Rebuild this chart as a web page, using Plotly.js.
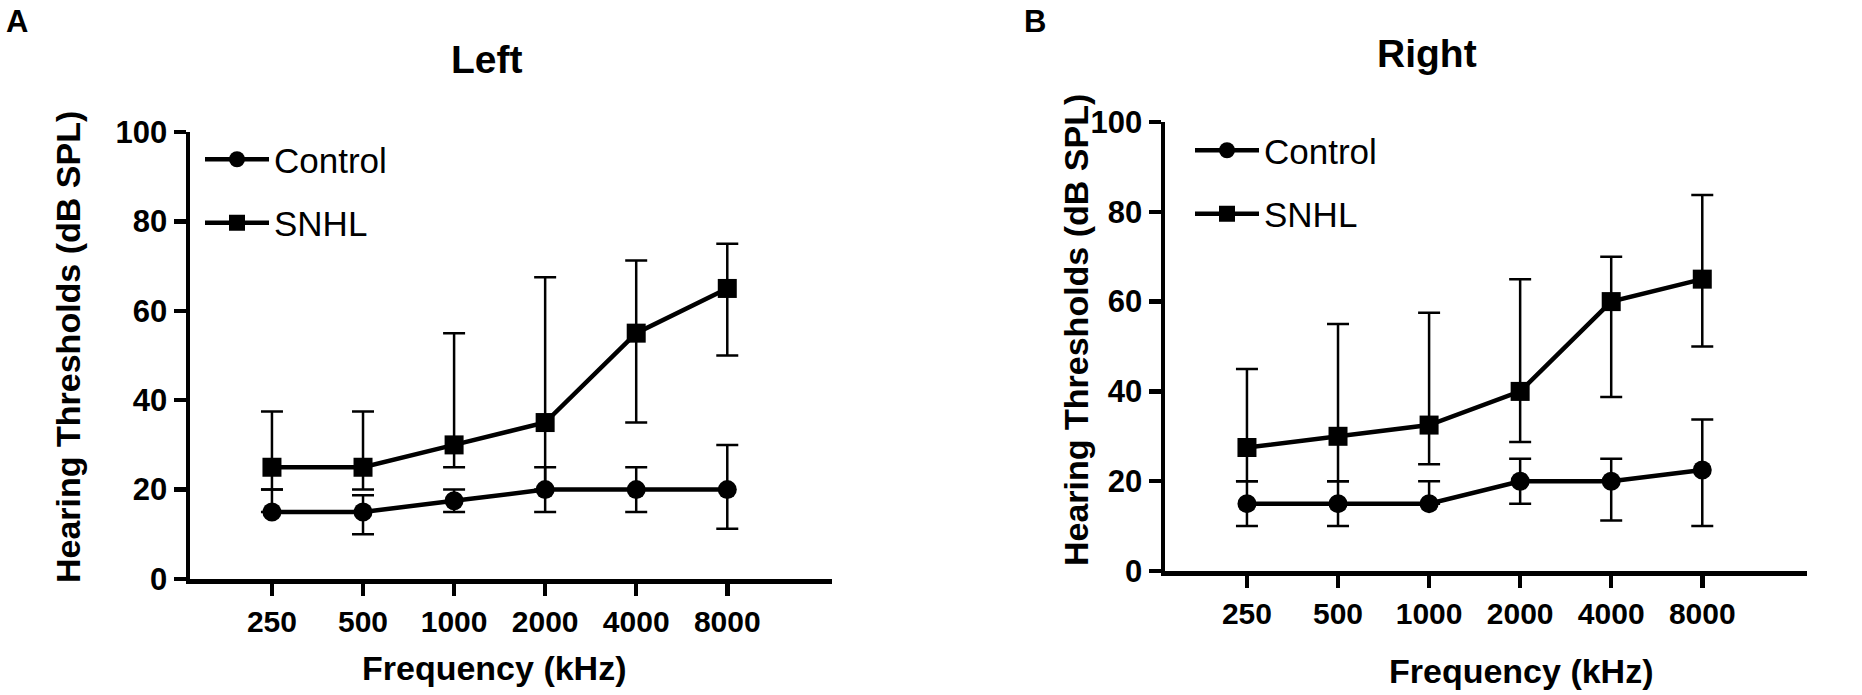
<!DOCTYPE html>
<html>
<head>
<meta charset="utf-8">
<script src="https://cdn.plot.ly/plotly-3.0.1.min.js"></script>
<style>
  body { margin: 0; background: #fff; }
  #chart { width: 1862px; height: 695px; }
</style>
</head>
<body>
<div id="chart"></div>
<script>
// frequencies on the x axis
var freqs = ['250', '500', '1000', '2000', '4000', '8000'];

// Left ear: median with upper / lower error limits
var leftControl   = [15, 15, 17.5, 20, 20, 20];
var leftControlHi = [20, 18.75, 20, 25, 25, 30];
var leftControlLo = [15, 10, 15, 15, 15, 11.25];
var leftSnhl      = [25, 25, 30, 35, 55, 65];
var leftSnhlHi    = [37.5, 37.5, 55, 67.5, 71.25, 75];
var leftSnhlLo    = [20, 20, 25, 20, 35, 50];

// Right ear
var rightControl   = [15, 15, 15, 20, 20, 22.5];
var rightControlHi = [20, 20, 20, 25, 25, 33.75];
var rightControlLo = [10, 10, 15, 15, 11.25, 10];
var rightSnhl      = [27.5, 30, 32.5, 40, 60, 65];
var rightSnhlHi    = [45, 55, 57.5, 65, 70, 83.75];
var rightSnhlLo    = [20, 20, 23.75, 28.75, 38.75, 50];

var FONT = 'Liberation Sans, Arial, sans-serif';

function diff(a, b) {
  var out = [];
  for (var i = 0; i < a.length; i++) out.push(Math.abs(a[i] - b[i]));
  return out;
}

function series(name, y, hi, lo, symbol, xa, ya, leg) {
  return {
    x: freqs, y: y, name: name,
    type: 'scatter', mode: 'lines+markers',
    xaxis: xa, yaxis: ya, legend: leg, legendgroup: name + leg,
    line: { color: '#000', width: 4.5 },
    marker: { symbol: symbol, size: 19, color: '#000' },
    error_y: {
      type: 'data', symmetric: false,
      array: diff(hi, y), arrayminus: diff(y, lo),
      color: '#000', thickness: 2.5, width: 11
    },
    cliponaxis: false
  };
}

var data = [
  series('Control', leftControl, leftControlHi, leftControlLo, 'circle', 'x', 'y', 'legend'),
  series('SNHL', leftSnhl, leftSnhlHi, leftSnhlLo, 'square', 'x', 'y', 'legend'),
  series('Control', rightControl, rightControlHi, rightControlLo, 'circle', 'x2', 'y2', 'legend2'),
  series('SNHL', rightSnhl, rightSnhlHi, rightSnhlLo, 'square', 'x2', 'y2', 'legend2')
];

function xax(domain, anchor) {
  return {
    domain: domain, anchor: anchor, type: 'category',
    range: [-0.9, 6.15],
    showline: true, linecolor: '#000', linewidth: 4.5,
    ticks: 'outside', ticklen: 12, tickwidth: 4.5, tickcolor: '#000',
    showgrid: false, zeroline: false,
    tickfont: { family: FONT, size: 30, color: '#000', weight: 'bold' }
  };
}

function yax(domain, anchor) {
  return {
    domain: domain, anchor: anchor,
    range: [0, 100], tickvals: [0, 20, 40, 60, 80, 100],
    showline: true, linecolor: '#000', linewidth: 4.5,
    ticks: 'outside', ticklen: 12, tickwidth: 4.5, tickcolor: '#000',
    showgrid: false, zeroline: false,
    tickfont: { family: FONT, size: 31, color: '#000', weight: 'bold' }
  };
}

function leg(x, y) {
  return {
    x: x, y: y, xanchor: 'left', yanchor: 'top',
    font: { family: FONT, size: 35, color: '#000' },
    bgcolor: 'rgba(0,0,0,0)', itemwidth: 64, tracegroupgap: 15,
    itemclick: false, itemdoubleclick: false
  };
}

function label(text, x, y, size, opts) {
  var a = {
    text: text, x: x / 1862, y: 1 - y / 695, xref: 'paper', yref: 'paper',
    xanchor: 'center', yanchor: 'middle', showarrow: false,
    font: { family: FONT, size: size, color: '#000', weight: 'bold' }
  };
  for (var k in opts) a[k] = opts[k];
  return a;
}

var yTitle = 'Hearing Thresholds (dB SPL)';
var xTitle = 'Frequency (kHz)';

var layout = {
  width: 1862, height: 695,
  margin: { l: 0, r: 0, t: 0, b: 0 },
  paper_bgcolor: '#fff', plot_bgcolor: '#fff',
  showlegend: true,
  xaxis: xax([190 / 1862, 832 / 1862], 'y'),
  yaxis: yax([1 - 579 / 695, 1 - 132 / 695], 'x'),
  xaxis2: xax([1165 / 1862, 1807 / 1862], 'y2'),
  yaxis2: yax([1 - 571 / 695, 1 - 122 / 695], 'x2'),
  legend: leg(200 / 1862, 1 - 130 / 695),
  legend2: leg(1190 / 1862, 1 - 121 / 695),
  annotations: [
    label('A', 4, 2, 31, { xanchor: 'left', yanchor: 'top' }),
    label('B', 1022, 2, 31, { xanchor: 'left', yanchor: 'top' }),
    label('Left', 487, 59, 39),
    label('Right', 1427, 53, 39),
    label(yTitle, 68, 347, 34, { textangle: -90 }),
    label(yTitle, 1076, 330, 34, { textangle: -90 }),
    label(xTitle, 494, 668, 34),
    label(xTitle, 1521, 671, 34)
  ]
};

Plotly.newPlot('chart', data, layout, { displayModeBar: false, staticPlot: true });
</script>
</body>
</html>
